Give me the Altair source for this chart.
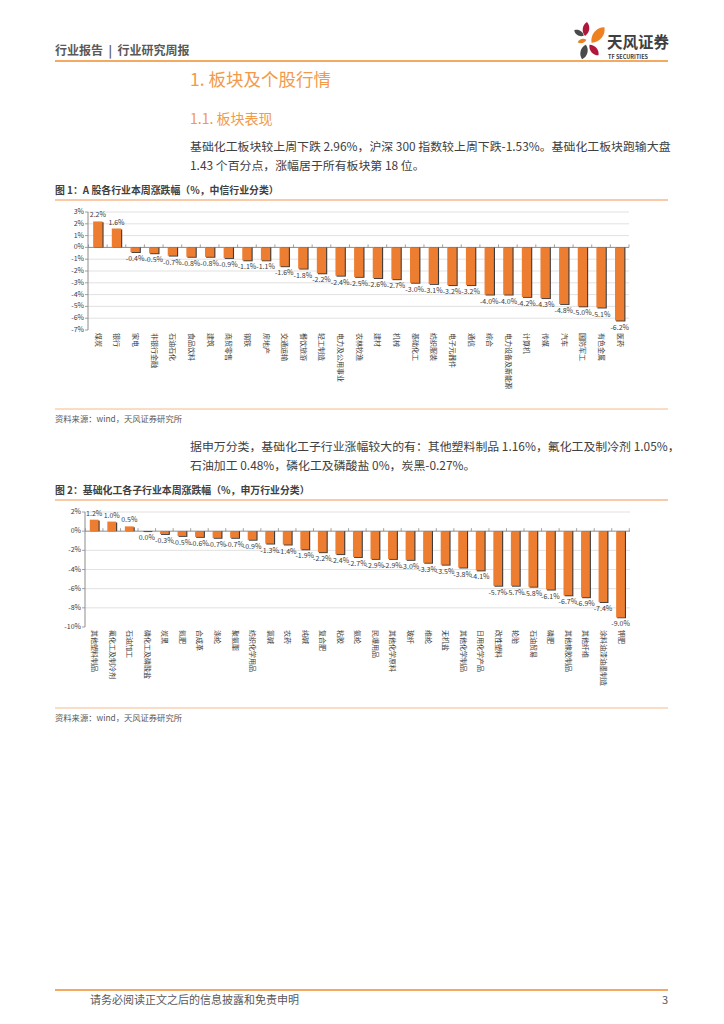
import altair as alt
import pandas as pd

FONT = "Noto Sans CJK SC"

# ---------------- data ----------------
c1_cats = ["煤炭", "银行", "家电", "非银行金融", "石油石化", "食品饮料", "建筑", "商贸零售",
           "钢铁", "房地产", "交通运输", "餐饮旅游", "轻工制造", "电力及公用事业", "农林牧渔",
           "建材", "机械", "基础化工", "纺织服装", "电子元器件", "通信", "综合",
           "电力设备及新能源", "计算机", "传媒", "汽车", "国防军工", "有色金属", "医药"]
c1_vals = [2.2, 1.6, -0.4, -0.5, -0.7, -0.8, -0.8, -0.9, -1.1, -1.1, -1.6, -1.8, -2.2, -2.4,
           -2.5, -2.6, -2.7, -3.0, -3.1, -3.2, -3.2, -4.0, -4.0, -4.2, -4.3, -4.8, -5.0, -5.1, -6.2]
c1_ticks = [3, 2, 1, 0, -1, -2, -3, -4, -5, -6, -7]

c2_cats = ["其他塑料制品", "氟化工及制冷剂", "石油加工", "磷化工及磷酸盐", "炭黑", "氮肥", "合成革",
           "涤纶", "聚氨酯", "纺织化学用品", "氯碱", "农药", "纯碱", "复合肥", "粘胶", "氨纶",
           "民爆用品", "其他化学原料", "玻纤", "维纶", "无机盐", "其他化学制品", "日用化学产品",
           "改性塑料", "轮胎", "石油贸易", "磷肥", "其他橡胶制品", "其他纤维", "涂料油漆油墨制造", "钾肥"]
c2_vals = [1.2, 1.0, 0.5, 0.0, -0.3, -0.5, -0.6, -0.7, -0.7, -0.9, -1.3, -1.4, -1.9, -2.2, -2.4,
           -2.7, -2.9, -2.9, -3.0, -3.3, -3.5, -3.8, -4.1, -5.7, -5.7, -5.8, -6.1, -6.7, -6.9, -7.4, -9.0]
c2_ticks = [2, 0, -2, -4, -6, -8, -10]

ORANGE = "#ED7D31"
LINE_OR = "#F08C2E"
LIGHT_OR = "#F6B98A"
TXT = "#3A3A3A"
GRAY = "#595959"
NB = "\u00a0"

M = 8  # page margin


def one():
    return pd.DataFrame({"k": [0]})


def txt(s, x, y, size, color=TXT, weight="normal", align="left", baseline="middle"):
    return alt.Chart(pd.DataFrame({"s": [s]})).mark_text(
        align=align, baseline=baseline, fontSize=size, fontWeight=weight,
        color=color, font=FONT
    ).encode(x=alt.value(x - M), y=alt.value(y - M), text="s:N")


def hline(x1, x2, y, color, w):
    return alt.Chart(one()).mark_rule(color=color, strokeWidth=w).encode(
        x=alt.value(x1 - M), x2=alt.value(x2 - M), y=alt.value(y - M))


LEAF = "M0,-1 C0.62,-0.5 0.62,0.5 0,1 C-0.62,0.5 -0.62,-0.5 0,-1 Z"


def petal(x, y, length, angle, color):
    return alt.Chart(one()).mark_point(
        shape=LEAF, filled=True, opacity=1, color=color, size=length * length,
        angle=angle, strokeWidth=0
    ).encode(x=alt.value(x - M), y=alt.value(y - M))


def bar_panel(cats, vals, ticks, x_rng, y_rng, axis_x, grid_end, cat_y, fs_tick=7):
    n = len(cats)
    step = (x_rng[1] - x_rng[0]) / n
    dom = [min(ticks), max(ticks)]
    rng = [y_rng[0] - M, y_rng[1] - M]
    xr = [x_rng[0] - M, x_rng[1] - M]
    ax = axis_x - M
    ge = grid_end - M
    unit = (y_rng[0] - y_rng[1]) / (dom[1] - dom[0])

    df = pd.DataFrame({"cat": cats, "v": vals})
    df["lab"] = [f"{v:.1f}%" for v in vals]
    df["z"] = 0.0
    df["z2"] = 3.0 / unit

    tdf = pd.DataFrame({"t": ticks})
    tdf["lab"] = [f"{t}%" for t in ticks]

    ysc = alt.Scale(domain=dom, range=rng, nice=False, zero=False)
    X = alt.X("cat:N", sort=cats, axis=None,
              scale=alt.Scale(range=xr, paddingInner=0.5, paddingOuter=0.25))

    grid_df = tdf[(tdf.t != 0) & (tdf.t != dom[0])]
    grid = alt.Chart(grid_df).mark_rule(color="#D9D9D9", strokeWidth=0.8).encode(
        y=alt.Y("t:Q", scale=ysc, axis=None), x=alt.value(ax), x2=alt.value(ge))
    zero = alt.Chart(tdf[tdf.t == 0]).mark_rule(color="#8C8C8C", strokeWidth=1).encode(
        y=alt.Y("t:Q", scale=ysc, axis=None), x=alt.value(ax), x2=alt.value(ge))
    yline = alt.Chart(pd.DataFrame({"a": [dom[1]], "b": [dom[0]]})).mark_rule(
        color="#8C8C8C", strokeWidth=1).encode(
        y=alt.Y("a:Q", scale=ysc, axis=None), y2="b:Q", x=alt.value(ax))
    yt = alt.Chart(tdf).mark_rule(color="#8C8C8C", strokeWidth=0.8).encode(
        y=alt.Y("t:Q", scale=ysc, axis=None), x=alt.value(ax - 3), x2=alt.value(ax))
    ylab = alt.Chart(tdf).mark_text(align="right", baseline="middle", fontSize=fs_tick,
                                    color=TXT, font=FONT).encode(
        y=alt.Y("t:Q", scale=ysc, axis=None), x=alt.value(ax - 4), text="lab:N")
    cticks = alt.Chart(df).mark_rule(color="#8C8C8C", strokeWidth=0.8, xOffset=-step / 2).encode(
        x=X, y=alt.Y("z:Q", scale=ysc, axis=None), y2="z2:Q")
    ctick_end = alt.Chart(df.tail(1)).mark_rule(color="#8C8C8C", strokeWidth=0.8,
                                                xOffset=step / 2).encode(
        x=X, y=alt.Y("z:Q", scale=ysc, axis=None), y2="z2:Q")
    shadow = alt.Chart(df).mark_bar(color="#3C3C3C", xOffset=1.1, yOffset=0.9).encode(
        x=X, y=alt.Y("v:Q", scale=ysc, axis=None, stack=None), y2="z:Q")
    bars = alt.Chart(df).mark_bar(color=ORANGE).encode(
        x=X, y=alt.Y("v:Q", scale=ysc, axis=None, stack=None), y2="z:Q")
    lpos = alt.Chart(df).transform_filter("datum.v > 0").mark_text(
        dy=-6, fontSize=7, color=TXT, font=FONT).encode(
        x=X, y=alt.Y("v:Q", scale=ysc, axis=None), text="lab:N")
    lneg = alt.Chart(df).transform_filter("datum.v <= 0").mark_text(
        dy=7, fontSize=7, color=TXT, font=FONT).encode(
        x=X, y=alt.Y("v:Q", scale=ysc, axis=None), text="lab:N")
    clab = alt.Chart(df).mark_text(angle=90, align="left", baseline="middle", fontSize=7,
                                   color=TXT, font=FONT).encode(
        x=X, y=alt.value(cat_y - M), text="cat:N")
    return alt.layer(grid, zero, yline, yt, ylab, cticks, ctick_end, shadow, bars,
                     lpos, lneg, clab)


chart1 = bar_panel(c1_cats, c1_vals, c1_ticks, x_rng=[88.5, 629], y_rng=[330, 212],
                   axis_x=88, grid_end=629, cat_y=333)
chart2 = bar_panel(c2_cats, c2_vals, c2_ticks, x_rng=[85.4, 629.3], y_rng=[627, 512],
                   axis_x=85, grid_end=630, cat_y=630)

page = [
    # header
    txt("行业报告" + NB * 2 + "|" + NB * 2 + "行业研究周报", 55, 51, 12, color=GRAY, weight="bold"),
    hline(55, 668, 61, LINE_OR, 1.6),
    petal(579, 33, 11, 120, "#4A4A4A"),
    petal(586, 29, 14, 8, "#B0173A"),
    petal(598, 35, 20, 40, "#EE8022"),
    petal(582, 41, 9, 75, "#EE8022"),
    petal(584, 52, 15, 15, "#4A4A4A"),
    petal(594, 50, 14, 140, "#B0173A"),
    txt("天风证券", 607, 43, 15.5, color="#3F3F3F", weight="bold"),
    txt("TF SECURITIES", 608, 56.5, 5.5, color="#3F3F3F", weight="bold"),
    # headings
    txt("1. 板块及个股行情", 190, 81, 17.5, color="#F39A4A"),
    txt("1.1. 板块表现", 190, 120, 14, color="#F39A4A"),
    txt("基础化工板块较上周下跌 2.96%，沪深 300 指数较上周下跌-1.53%。基础化工板块跑输大盘",
        190, 147, 11.9, color="#404040"),
    txt("1.43 个百分点，涨幅居于所有板块第 18 位。", 190, 166, 11.9, color="#404040"),
    # figure 1
    txt("图 1：A 股各行业本周涨跌幅（%，中信行业分类）", 55, 191, 9.9, color="#404040", weight="bold"),
    hline(55, 668, 200, LIGHT_OR, 1.4),
    hline(55, 668, 409, LIGHT_OR, 1.0),
    txt("资料来源：wind，天风证券研究所", 55, 420, 8.3, color=GRAY),
    # paragraph 2
    txt("据申万分类，基础化工子行业涨幅较大的有：其他塑料制品 1.16%，氟化工及制冷剂 1.05%，",
        190, 447, 11.9, color="#404040"),
    txt("石油加工 0.48%，磷化工及磷酸盐 0%，炭黑-0.27%。", 190, 466, 11.9, color="#404040"),
    # figure 2
    txt("图 2：基础化工各子行业本周涨跌幅（%，申万行业分类）", 55, 491, 9.9, color="#404040", weight="bold"),
    hline(55, 668, 500, LIGHT_OR, 1.4),
    hline(55, 668, 708, LIGHT_OR, 1.0),
    txt("资料来源：wind，天风证券研究所", 55, 719, 8.3, color=GRAY),
    # footer
    hline(55, 668, 990, LINE_OR, 1.6),
    txt("请务必阅读正文之后的信息披露和免责申明", 90, 1001, 11, color=GRAY),
    txt("3", 668, 1001, 11, color=GRAY, align="right"),
]

chart = alt.layer(*page, chart1, chart2).resolve_scale(
    x="independent", y="independent"
).properties(
    width=708, height=1008, padding=0,
    autosize=alt.AutoSizeParams(type="none"),
    background="white",
).configure_view(stroke=None)

chart.save("out.html", embed_options={"renderer": "svg", "actions": False})
